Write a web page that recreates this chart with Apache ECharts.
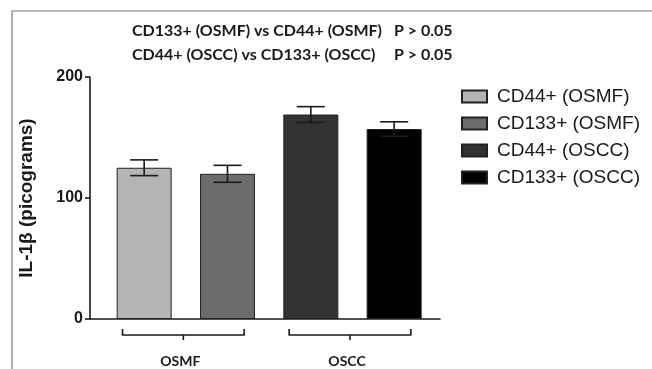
<!DOCTYPE html>
<html>
<head>
<meta charset="utf-8">
<script src="https://cdn.jsdelivr.net/npm/echarts@6/dist/echarts.min.js"></script>
<style>
  html, body { margin: 0; padding: 0; background: #fff; }
  #chart { width: 652px; height: 369px; }
</style>
</head>
<body>
<div id="chart"></div>
<script>
// data
var seriesNames = ['CD44+ (OSMF)', 'CD133+ (OSMF)', 'CD44+ (OSCC)', 'CD133+ (OSCC)'];
var barPos = [1, 2, 3, 4];
var means = [125, 120, 169, 157];
var errors = [6.5, 7, 6.5, 6];
var barColors = ['#b4b4b4', '#6c6c6c', '#323232', '#000000'];
var groupNames = ['OSMF', 'OSCC'];
var groupBars = [[0, 1], [2, 3]];
var yTicks = [0, 100, 200];
var pLines = [
    ['CD133+ (OSMF) vs CD44+ (OSMF)', 'P > 0.05'],
    ['CD44+ (OSCC) vs CD133+ (OSCC)', 'P > 0.05']
];

var textColor = '#1a1a1a';

var barSeries = seriesNames.map(function (name, i) {
    return {
        name: name,
        type: 'bar',
        barWidth: 55,
        barGap: '-100%',
        itemStyle: {
            color: barColors[i],
            borderColor: '#222',
            borderWidth: 1
        },
        data: [[barPos[i], means[i]]]
    };
});

var errSeries = {
    type: 'custom',
    z: 5,
    data: means.map(function (m, i) { return [barPos[i], m, errors[i]]; }),
    renderItem: function (params, api) {
        var x = api.value(0), m = api.value(1), e = api.value(2);
        var top = api.coord([x, m + e]);
        var bot = api.coord([x, m - e]);
        var cap = 14;
        var st = { stroke: '#1a1a1a', lineWidth: 1.6 };
        return {
            type: 'group',
            children: [
                { type: 'line', shape: { x1: top[0], y1: top[1], x2: bot[0], y2: bot[1] }, style: st },
                { type: 'line', shape: { x1: top[0] - cap, y1: top[1], x2: top[0] + cap, y2: top[1] }, style: st },
                { type: 'line', shape: { x1: bot[0] - cap, y1: bot[1], x2: bot[0] + cap, y2: bot[1] }, style: st }
            ]
        };
    }
};

// brackets and group names under the axis
var bracketSeries = {
    type: 'custom',
    clip: false,
    silent: true,
    data: groupBars.map(function (g, i) {
        return [barPos[g[0]] - 0.26, barPos[g[1]] + 0.2, i];
    }),
    renderItem: function (params, api) {
        var a = api.coord([api.value(0), 0]);
        var b = api.coord([api.value(1), 0]);
        var y = a[1] + 16;
        var mid = (a[0] + b[0]) / 2;
        var st = { stroke: '#1a1a1a', lineWidth: 1.6, fill: null };
        return {
            type: 'group',
            children: [
                { type: 'polyline', shape: { points: [[a[0], y - 6], [a[0], y], [b[0], y], [b[0], y - 6]] }, style: st },
                { type: 'line', shape: { x1: mid, y1: y, x2: mid, y2: y + 5 }, style: st },
                { type: 'text', x: mid - 3, y: y + 26, style: {
                    text: groupNames[api.value(2)], fill: textColor,
                    font: 'bold 14px Lato', align: 'center', verticalAlign: 'middle'
                } }
            ]
        };
    }
};

var option = {
    animation: false,
    backgroundColor: '#fff',
    graphic: [{
        type: 'rect',
        shape: { x: 12, y: 11, width: 700, height: 400 },
        style: { fill: null, stroke: '#777', lineWidth: 1.2 }
    }],
    title: {
        left: 127,
        top: 14,
        text: pLines.map(function (l) { return '{a|' + l[0] + '}{b|' + l[1] + '}'; }).join('\n'),
        textStyle: {
            rich: {
                a: { width: 262, fontFamily: 'Lato', fontWeight: 'bold', fontSize: 16, color: textColor, lineHeight: 24 },
                b: { fontFamily: 'Lato', fontWeight: 'bold', fontSize: 16, color: textColor, lineHeight: 24 }
            }
        }
    },
    legend: {
        data: seriesNames,
        orient: 'vertical',
        left: 456,
        top: 82,
        itemWidth: 25,
        itemHeight: 12,
        itemGap: 8,
        icon: 'rect',
        selectedMode: false,
        textStyle: { fontFamily: 'Liberation Sans', fontSize: 19, color: textColor, padding: [0, 0, 0, 5] }
    },
    grid: { left: 90, right: 212, top: 77, bottom: 50, outerBoundsMode: 'none' },
    xAxis: {
        type: 'value',
        min: 0.35,
        max: 4.55,
        axisLine: { show: true, lineStyle: { color: '#1a1a1a', width: 1.6 } },
        axisTick: { show: false },
        axisLabel: { show: false },
        splitLine: { show: false }
    },
    yAxis: {
        type: 'value',
        min: yTicks[0],
        max: yTicks[yTicks.length - 1],
        interval: yTicks[1] - yTicks[0],
        name: 'IL-1β (picograms)',
        nameLocation: 'middle',
        nameGap: 54,
        nameTextStyle: { fontFamily: 'Liberation Sans', fontWeight: 'bold', fontSize: 19, color: textColor },
        axisLine: { show: true, lineStyle: { color: '#1a1a1a', width: 1.6 } },
        axisTick: { show: true, length: 5, lineStyle: { color: '#1a1a1a', width: 1.6 } },
        axisLabel: { fontFamily: 'Liberation Sans', fontWeight: 'bold', fontSize: 16, color: textColor, margin: 7 },
        splitLine: { show: false }
    },
    series: barSeries.concat([errSeries, bracketSeries])
};

var chart = echarts.init(document.getElementById('chart'));
chart.setOption(option);
</script>
</body>
</html>
